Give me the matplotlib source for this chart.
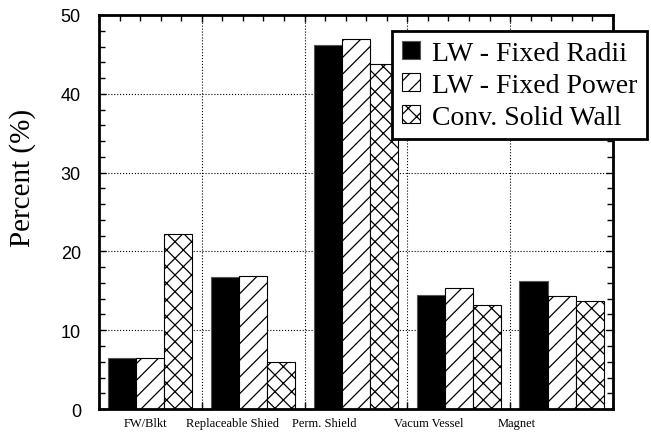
import numpy as np
import matplotlib
matplotlib.use('Agg')
import matplotlib.pyplot as plt
from matplotlib.ticker import MultipleLocator

# dados
categorias = ['FW/Blkt', 'Replaceable Shied', 'Perm. Shield', 'Vacum Vessel', 'Magnet']
pos_rotulos = [0.45, 1.30, 2.19, 3.21, 4.06]
series = ['LW - Fixed Radii', 'LW - Fixed Power', 'Conv. Solid Wall']
fixed_radii = [6.5, 16.8, 46.2, 14.5, 16.2]
fixed_power = [6.5, 16.9, 47.0, 15.3, 14.3]
solid_wall = [22.2, 6.0, 43.8, 13.2, 13.7]

plt.rcParams['hatch.linewidth'] = 0.9

fig = plt.figure(figsize=(6.51, 4.39), dpi=100)
ax = fig.add_axes([0.152, 0.066, 0.7896, 0.8976])

x = np.arange(len(categorias)) + 0.5
w = 0.273
ax.bar(x - w, fixed_radii, w, color='black', edgecolor='#555555', linewidth=0.8, label=series[0], zorder=2)
ax.bar(x, fixed_power, w, color='white', edgecolor='black', hatch='//', linewidth=0.8, label=series[1], zorder=2)
ax.bar(x + w, solid_wall, w, color='white', edgecolor='black', hatch='xx', linewidth=0.8, label=series[2], zorder=2)

ax.set_xlim(0, 5)
ax.set_ylim(0, 50)
ax.xaxis.set_major_locator(MultipleLocator(1))
ax.xaxis.set_minor_locator(MultipleLocator(0.2))
ax.yaxis.set_major_locator(MultipleLocator(10))
ax.yaxis.set_minor_locator(MultipleLocator(2))
ax.set_xticklabels([])
ax.tick_params(which='both', direction='in', top=True, right=True, width=1)
ax.tick_params(which='major', length=5)
ax.tick_params(which='minor', length=4)
ax.tick_params(axis='y', labelsize=13, pad=13)
for lbl in ax.get_yticklabels():
    lbl.set_family('Liberation Sans')
ax.grid(True, which='major', linestyle=':', color='black', linewidth=0.8, zorder=0)
for s in ax.spines.values():
    s.set_linewidth(2)

for p, nome in zip(pos_rotulos, categorias):
    ax.text(p, -1.0, nome, ha='center', va='top', fontsize=9, family='Liberation Serif')

ax.set_ylabel('Percent (%)', fontsize=21, family='Liberation Serif')
ax.yaxis.set_label_coords(-0.122, 0.59)

leg = ax.legend(loc='upper left', bbox_to_anchor=(392 / 651, 1 - 32 / 439), bbox_transform=fig.transFigure,
                prop={'family': 'Liberation Serif', 'size': 20}, fancybox=False, framealpha=1,
                edgecolor='black', handlelength=0.65, handleheight=0.65, handletextpad=0.45,
                borderpad=0.35, labelspacing=0.25, borderaxespad=0)
leg.get_frame().set_linewidth(2)

fig.savefig('out.png', dpi=100)
